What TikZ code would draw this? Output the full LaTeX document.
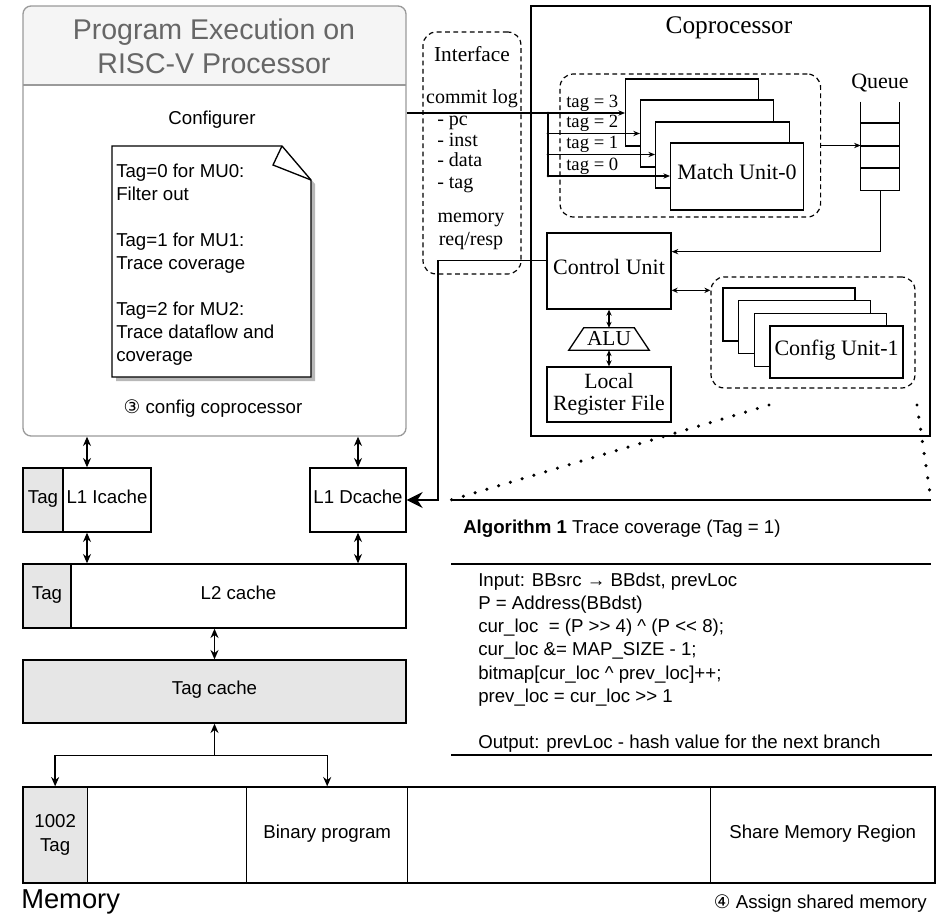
\documentclass[tikz,border=0pt]{standalone}
\usepackage{fontspec}
\setmainfont{Liberation Serif}
\setsansfont{Liberation Sans}
\newfontfamily\symfnt{DejaVu Sans}
\usetikzlibrary{arrows.meta,fit,calc}

\definecolor{procedge}{HTML}{9A9A9A}
\definecolor{hdrfill}{HTML}{F5F5F5}
\definecolor{hdrtext}{HTML}{666666}
\definecolor{tagfill}{HTML}{E6E6E6}
\definecolor{shadowc}{HTML}{B8B8B8}

\newcommand\mysf[2]{\sffamily\fontsize{#1}{#2}\selectfont}
\newcommand\myrm[2]{\rmfamily\fontsize{#1}{#2}\selectfont}

\tikzset{
  box/.style={draw, line width=1pt, inner sep=0pt, fill=white},
  tagbox/.style={box, fill=tagfill},
  dbox/.style={draw, line width=0.9pt, dash pattern=on 3.6pt off 2.6pt, rounded corners=10pt, inner sep=0pt},
  lbl/.style={inner sep=0pt},
  oneline/.style={text height=0.7em, text depth=0.2em},
  arr/.style={line width=0.9pt, -{Stealth[length=5pt,width=4pt]}},
  sdarr/.style={line width=0.9pt, {Stealth[length=4.5pt,width=4pt]}-{Stealth[length=4.5pt,width=4pt]}},
  darr/.style={line width=1pt, {Stealth[length=7pt,width=6pt]}-{Stealth[length=7pt,width=6pt]}},
  marr/.style={line width=1pt, -{Stealth[length=7pt,width=6pt]}},
  bigarr/.style={line width=1pt, -{Stealth[length=12pt,width=12pt,inset=4pt]}},
  dots/.style={line width=2.6pt, line cap=round, dash pattern=on 0pt off 9.2pt},
  rule/.style={line width=1pt},
  sanstxt/.style={font=\mysf{14}{17}},
  serftxt/.style={font=\myrm{16.5}{19}}
}

\begin{document}
\begin{tikzpicture}[x=0.75pt,y=-0.75pt]
\useasboundingbox (0,0) rectangle (939,920);

% ---------------- processor ----------------
\begin{scope}
  \clip[rounded corners=6pt] (23,6) rectangle (406,436);
  \fill[hdrfill] (23,6) rectangle (406,85);
\end{scope}
\node[fit={(23,6)(406,436)}, draw=procedge, line width=1pt, rounded corners=6pt, inner sep=0pt] (proc) {};
\draw[procedge, line width=1pt] (23,85) -- (406,85);
\node[lbl, text=hdrtext, align=center, font=\mysf{21.4}{25.5}] (title) at (214,46) {Program Execution on\\RISC-V Processor};
\node[lbl, oneline, sanstxt] (cfgr) at (212,121) {Configurer};

% configuration note with folded corner
\fill[shadowc] (116,150) -- (286,150) -- (315,184) -- (315,381) -- (116,381) -- cycle;
\draw[line width=1pt, fill=white] (112,146) -- (282,146) -- (311,180) -- (311,377) -- (112,377) -- cycle;
\draw[line width=1pt] (282,146) -- (273,165) -- (311,180);
\node[lbl, anchor=north west, align=left, font=\mysf{14}{17.25}] (note) at (116,163.5)
  {Tag=0 for MU0:\\Filter out\\[17.25pt]Tag=1 for MU1:\\Trace coverage\\[17.25pt]Tag=2 for MU2:\\Trace dataflow and\\coverage};
\node[lbl, oneline, sanstxt] (step3) at (213,410) {{\symfnt ③} config coprocessor};

% ---------------- interface ----------------
\node[dbox, fit={(423,32)(521,274)}] (iface) {};
\node[lbl, oneline, font=\myrm{16}{19}] (ifl) at (472,58) {Interface};
\node[lbl, oneline, font=\myrm{15}{18}] (clog) at (472,100) {commit log};
\node[lbl, oneline, anchor=west, font=\myrm{15}{18}] (ipc) at (437,122) {- pc};
\node[lbl, oneline, anchor=west, font=\myrm{15}{18}] (iinst) at (437,143) {- inst};
\node[lbl, oneline, anchor=west, font=\myrm{15}{18}] (idata) at (437,163.5) {- data};
\node[lbl, oneline, anchor=west, font=\myrm{15}{18}] (itagl) at (437,185) {- tag};
\node[lbl, oneline, font=\myrm{15}{18}] (imem) at (471,219) {memory};
\node[lbl, oneline, font=\myrm{15}{18}] (ireq) at (471,241.7) {req/resp};

% ---------------- coprocessor ----------------
\node[draw, line width=1pt, inner sep=0pt, fit={(531,6)(930,436)}] (copro) {};
\node[lbl, oneline, font=\myrm{19}{22}] (coprol) at (729,30) {Coprocessor};

% match units
\node[dbox, fit={(560,74)(820.6,217)}] (mbox) {};
\node[box, fit={(625.7,79)(758.3,146)}] (mu3) {};
\node[box, fit={(640.6,100)(773.8,167)}] (mu2) {};
\node[box, fit={(655.7,122)(789.4,188)}] (mu1) {};
\node[box, fit={(670.7,143)(803.3,210)}] (mu0) {};
\node[lbl, oneline, serftxt] (mu0l) at (mu0.center) {Match Unit-0};

\coordinate (b3) at (548,113);
\coordinate (b2) at (548,133.5);
\coordinate (b1) at (548,154.5);
\coordinate (b0) at (548,176);
\draw[line width=0.9pt] (proc.east |- b3) -- (b3) -- (b0);
\draw[arr] (b3) -- (b3 -| mu3.west);
\draw[arr] (b2) -- (b2 -| mu2.west);
\draw[arr] (b1) -- (b1 -| mu1.west);
\draw[arr] (b0) -- (b0 -| mu0.west);
\foreach \p in {b3,b2,b1,b0} \fill (\p) circle (1.1pt);
\node[lbl, oneline, anchor=west, font=\myrm{14}{16}] (t3) at (566,104) {tag = 3};
\node[lbl, oneline, anchor=west, font=\myrm{14}{16}] (t2) at (566,124.5) {tag = 2};
\node[lbl, oneline, anchor=west, font=\myrm{14}{16}] (t1) at (566,145.5) {tag = 1};
\node[lbl, oneline, anchor=west, font=\myrm{14}{16}] (t0) at (566,167) {tag = 0};

% queue
\node[lbl, fit={(861,102)(899.5,190)}] (queue) {};
\draw[line width=1pt] (queue.north west) -- (queue.south west) -- (queue.south east) -- (queue.north east);
\foreach \yy in {123,146,168} \draw[line width=1pt] (861,\yy) -- (899.5,\yy);
\node[lbl, oneline, serftxt] (ql) at (880,85) {Queue};
\draw[arr] (mbox.east) -- (mbox.east -| queue.west);

% control unit, ALU, register file
\node[box, fit={(547,233)(671,309)}] (cu) {};
\node[lbl, oneline, serftxt] (cul) at (cu.center) {Control Unit};
\node[lbl, minimum width=60pt, minimum height=16.5pt, font=\myrm{16}{19}] (alu) at (609,339) {ALU};
\draw[line width=1pt] (alu.south west) -- (alu.south east) -- ([xshift=-11.25pt]alu.north east) -- ([xshift=11.25pt]alu.north west) -- cycle;
\node[box, fit={(547,367)(671,422)}] (lrf) {};
\node[lbl, align=center, font=\myrm{16.3}{16.8}] (lrfl) at (lrf.center) {Local\\Register File};
\draw[sdarr] (cu.south) -- (alu.north);
\draw[sdarr] (alu.south) -- (lrf.north);
\coordinate (cuQ) at ($(cu.north east)!0.25!(cu.south east)$);
\draw[arr] (queue.south) |- (cuQ);

% config units
\node[dbox, fit={(711,277)(915,388)}] (cfgbox) {};
\node[box, fit={(723,288)(855,341)}] (cf3) {};
\node[box, fit={(738.7,300.7)(870.7,353.7)}] (cf2) {};
\node[box, fit={(754.4,313.4)(886.4,366.4)}] (cf1) {};
\node[box, fit={(770.1,326)(903,378)}] (cf0) {};
\node[lbl, oneline, serftxt] (cf0l) at (cf0.center) {Config Unit-1};
\coordinate (cuR) at ($(cu.north east)!0.75!(cu.south east)$);
\draw[sdarr] (cuR) -- (cuR -| cfgbox.west);

% ---------------- caches ----------------
\node[box, fit={(23,468)(151,532)}] (l1i) {};
\node[tagbox, fit={(23,468)(63,532)}] (itag) {};
\node[lbl, oneline, sanstxt] (itagl) at (itag.center) {Tag};
\node[lbl, oneline, sanstxt] (l1il) at (107,500) {L1 Icache};
\node[box, fit={(310,468)(406,532)}] (dcache) {};
\node[lbl, oneline, sanstxt] (dcachel) at (dcache.center) {L1 Dcache};
\node[box, fit={(23,564)(406,628)}] (l2) {};
\node[tagbox, fit={(23,564)(71,628)}] (l2tag) {};
\node[lbl, oneline, sanstxt] (l2tagl) at (l2tag.center) {Tag};
\node[lbl, oneline, sanstxt] (l2l) at (238.5,596) {L2 cache};
\node[tagbox, fit={(23,660)(406,723)}] (tagc) {};
\node[lbl, oneline, sanstxt] (tagcl) at (tagc.center) {Tag cache};

\draw[darr] (l1i.north) -- (l1i.north |- proc.south);
\draw[darr] (dcache.north) -- (dcache.north |- proc.south);
\draw[darr] (l1i.south) -- (l1i.south |- l2.north);
\draw[darr] (dcache.south) -- (dcache.south |- l2.north);
\draw[darr] (l2.south) -- (tagc.north);

% memory
\node[tagbox, fit={(23,787)(87.3,883)}] (memtag) {};
\node[lbl, align=center, font=\mysf{14}{18}] (memtagl) at (memtag.center) {1002\\Tag};
\node[box, fit={(87.3,787)(246.8,883)}] (mem1) {};
\node[box, fit={(246.8,787)(407.6,883)}] (membin) {};
\node[lbl, oneline, sanstxt] (membinl) at (membin.center) {Binary program};
\node[box, fit={(407.6,787)(710.4,883)}] (mem3) {};
\node[box, fit={(710.4,787)(935,883)}] (memshr) {};
\node[lbl, oneline, sanstxt] (memshrl) at (memshr.center) {Share Memory Region};
\coordinate (mb) at ($(tagc.south)+(0,32)$);
\draw[marr] (mb) -- (tagc.south);
\draw[marr] (mb) -| (memtag.north);
\draw[marr] (mb) -| (membin.north);
\node[lbl, oneline, anchor=west, font=\mysf{20.5}{24}] (meml) at (21,905) {Memory};
\node[lbl, oneline, anchor=east, sanstxt] (assign) at (927,905) {{\symfnt ④} Assign shared memory};

% memory request path from the control unit to the data cache
\coordinate (cuL) at ($(cu.north west)!0.365!(cu.south west)$);
\coordinate (mreq) at (438,500);
\draw[bigarr] (cuL) -| (mreq) -- (dcache.east);

% ---------------- algorithm callout ----------------
\coordinate (zl1) at (769,405);
\coordinate (zl2) at (451,500);
\coordinate (zr1) at (917,405);
\coordinate (zr2) at (931,500);
\draw[dots] (zl1) -- (zl2);
\draw[dots] (zr1) -- (zr2);
\draw[rule] (zl2) -- (zr2);
\coordinate (r2a) at (451,564);
\coordinate (r2b) at (931,564);
\draw[rule] (r2a) -- (r2b);
\node[lbl, oneline, anchor=west, sanstxt] (algh) at (463,530) {\textbf{Algorithm 1} Trace coverage (Tag = 1)};
\node[lbl, anchor=north west, align=left, font=\mysf{14}{17.3}] (code) at (478,573)
  {Input: BBsrc → BBdst, prevLoc\\
   P = Address(BBdst)\\
   cur\_loc~~= (P >\kern0pt> 4) \textasciicircum{} (P <\kern0pt< 8);\\
   cur\_loc \&= MAP\_SIZE - 1;\\
   bitmap[cur\_loc \textasciicircum{} prev\_loc]++;\\
   prev\_loc = cur\_loc >\kern0pt> 1\\[17.3pt]
   Output: prevLoc - hash value for the next branch};
\coordinate (r3a) at (451,755);
\coordinate (r3b) at (932,755);
\draw[rule] (r3a) -- (r3b);

\end{tikzpicture}
\end{document}
